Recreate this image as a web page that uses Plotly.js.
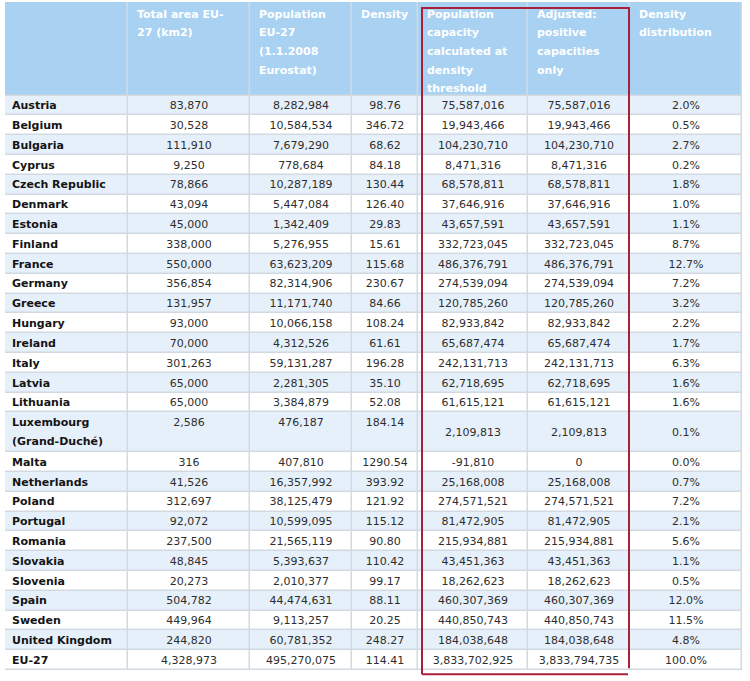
<!DOCTYPE html>
<html>
<head>
<meta charset="utf-8">
<script src="https://cdn.plot.ly/plotly-3.0.1.min.js"></script>
<style>html,body{margin:0;padding:0;background:#fff}#chart{width:750px;height:681px}</style>
</head>
<body>
<div id="chart"></div>
<script>
// ---- data ----
const headers = [
  "",
  "Total area EU-<br>27 (km2)",
  "Population<br>EU-27<br>(1.1.2008<br>Eurostat)",
  "Density",
  "Population<br>capacity<br>calculated at<br>density<br>threshold",
  "Adjusted:<br>positive<br>capacities<br>only",
  "Density<br>distribution"
];
const countries = ["Austria","Belgium","Bulgaria","Cyprus","Czech Republic","Denmark","Estonia","Finland","France","Germany","Greece","Hungary","Ireland","Italy","Latvia","Lithuania","Luxembourg<br>(Grand-Duché)","Malta","Netherlands","Poland","Portugal","Romania","Slovakia","Slovenia","Spain","Sweden","United Kingdom","EU-27"];
const totalArea = [83870,30528,111910,9250,78866,43094,45000,338000,550000,356854,131957,93000,70000,301263,65000,65000,2586,316,41526,312697,92072,237500,48845,20273,504782,449964,244820,4328973];
const population = [8282984,10584534,7679290,778684,10287189,5447084,1342409,5276955,63623209,82314906,11171740,10066158,4312526,59131287,2281305,3384879,476187,407810,16357992,38125479,10599095,21565119,5393637,2010377,44474631,9113257,60781352,495270075];
const density = [98.76,346.72,68.62,84.18,130.44,126.40,29.83,15.61,115.68,230.67,84.66,108.24,61.61,196.28,35.10,52.08,184.14,1290.54,393.92,121.92,115.12,90.80,110.42,99.17,88.11,20.25,248.27,114.41];
const capacity = [75587016,19943466,104230710,8471316,68578811,37646916,43657591,332723045,486376791,274539094,120785260,82933842,65687474,242131713,62718695,61615121,2109813,-91810,25168008,274571521,81472905,215934881,43451363,18262623,460307369,440850743,184038648,3833702925];
const adjusted = [75587016,19943466,104230710,8471316,68578811,37646916,43657591,332723045,486376791,274539094,120785260,82933842,65687474,242131713,62718695,61615121,2109813,0,25168008,274571521,81472905,215934881,43451363,18262623,460307369,440850743,184038648,3833794735];
const distribution = [2.0,0.5,2.7,0.2,1.8,1.0,1.1,8.7,12.7,7.2,3.2,2.2,1.7,6.3,1.6,1.6,0.1,0.0,0.7,7.2,2.1,5.6,1.1,0.5,12.0,11.5,4.8,100.0];

// ---- layout geometry (pixels) ----
const W = 750, H = 681;
const xEdges = [5,128,250,352,418,528,630,742];
const headTop = 2, headBottom = 95.5, rowH = 19.8, lineH = 18.6, textShift = 1;
const valign = ["top","top","top","top","middle","middle","middle"];

const fmtInt = v => v.toLocaleString("en-US");
const columns = [
  null,
  totalArea.map(fmtInt),
  population.map(fmtInt),
  density.map(v => v.toFixed(2)),
  capacity.map(fmtInt),
  adjusted.map(fmtInt),
  distribution.map(v => v.toFixed(1) + "%")
];

const nLines = countries.map(c => c.split("<br>").length);
const yEdges = [headTop, headBottom];
nLines.forEach(n => yEdges.push(yEdges[yEdges.length-1] + n*rowH));
const yTop = H - yEdges[yEdges.length-1];

// background cells
const z = [xEdges.slice(1).map(() => 2)].concat(
  countries.map((c,i) => xEdges.slice(1).map(() => (i % 2 === 0 ? 1 : 0)))
);

// header text
const hx=[], hy=[], ht=[];
headers.forEach((h,c) => {
  if (!h) return;
  h.split("<br>").forEach((line,k) => {
    hx.push(xEdges[c] + 9); hy.push(headTop + 13 + k*lineH); ht.push(line);
  });
});
// first column text
const cx=[], cy=[], ct=[];
countries.forEach((name,i) => {
  name.split("<br>").forEach((line,k) => {
    cx.push(xEdges[0] + 7); cy.push(yEdges[i+1] + rowH/2 + textShift + k*19); ct.push(line);
  });
});
// number cells
const nx=[], ny=[], nt=[];
for (let c = 1; c < columns.length; c++) {
  columns[c].forEach((txt,i) => {
    const top = yEdges[i+1], bot = yEdges[i+2];
    nx.push((xEdges[c] + xEdges[c+1]) / 2);
    ny.push((valign[c] === "middle" ? (top + bot) / 2 : top + rowH/2) + textShift);
    nt.push(txt);
  });
}

const font = "DejaVu Sans, Verdana, sans-serif";
const data = [
  {
    type: "heatmap", x: xEdges, y: yEdges, z: z, zmin: 0, zmax: 2,
    colorscale: [[0,"#ffffff"],[0.5,"#e6f0fa"],[1,"#a9d2f2"]],
    showscale: false, xgap: 1.5, ygap: 1.5, hoverinfo: "skip"
  },
  {
    type: "scatter", mode: "text", x: hx, y: hy, text: ht, textposition: "middle right",
    textfont: {family: font, size: 11, color: "#ffffff", weight: "bold"},
    hoverinfo: "skip", cliponaxis: false, showlegend: false
  },
  {
    type: "scatter", mode: "text", x: cx, y: cy, text: ct, textposition: "middle right",
    textfont: {family: font, size: 11, color: "#141414", weight: "bold"},
    hoverinfo: "skip", cliponaxis: false, showlegend: false
  },
  {
    type: "scatter", mode: "text", x: nx, y: ny, text: nt, textposition: "middle center",
    textfont: {family: font, size: 11, color: "#2e2e2e"},
    hoverinfo: "skip", cliponaxis: false, showlegend: false
  }
];

const plotL = xEdges[0], plotR = W - xEdges[xEdges.length-1];
const plotT = headTop, plotB = yTop;
const plotW = W - plotL - plotR, plotH = H - plotT - plotB;
const px = v => ((v - plotL) / plotW).toFixed(5);
const py = v => ((H - plotB - v) / plotH).toFixed(5);

const boxColor = "#a8203a";
const layout = {
  width: W, height: H,
  margin: {l: plotL, r: plotR, t: plotT, b: plotB, pad: 0},
  paper_bgcolor: "#ffffff", plot_bgcolor: "#d3d9e0",
  showlegend: false,
  xaxis: {range: [xEdges[0], xEdges[xEdges.length-1]], visible: false, fixedrange: true},
  yaxis: {range: [yEdges[yEdges.length-1], headTop], visible: false, fixedrange: true},
  shapes: [
    {type: "path", xref: "paper", yref: "paper",
     path: `M ${px(422)} ${py(674)} L ${px(422)} ${py(8)} L ${px(629)} ${py(8)} L ${px(629)} ${py(668)}`,
     line: {color: boxColor, width: 2}},
    {type: "line", xref: "paper", yref: "paper",
     x0: px(422), x1: px(628), y0: py(674), y1: py(674),
     line: {color: boxColor, width: 2}}
  ]
};
Plotly.newPlot("chart", data, layout, {displayModeBar: false, staticPlot: true});
</script>
</body>
</html>
